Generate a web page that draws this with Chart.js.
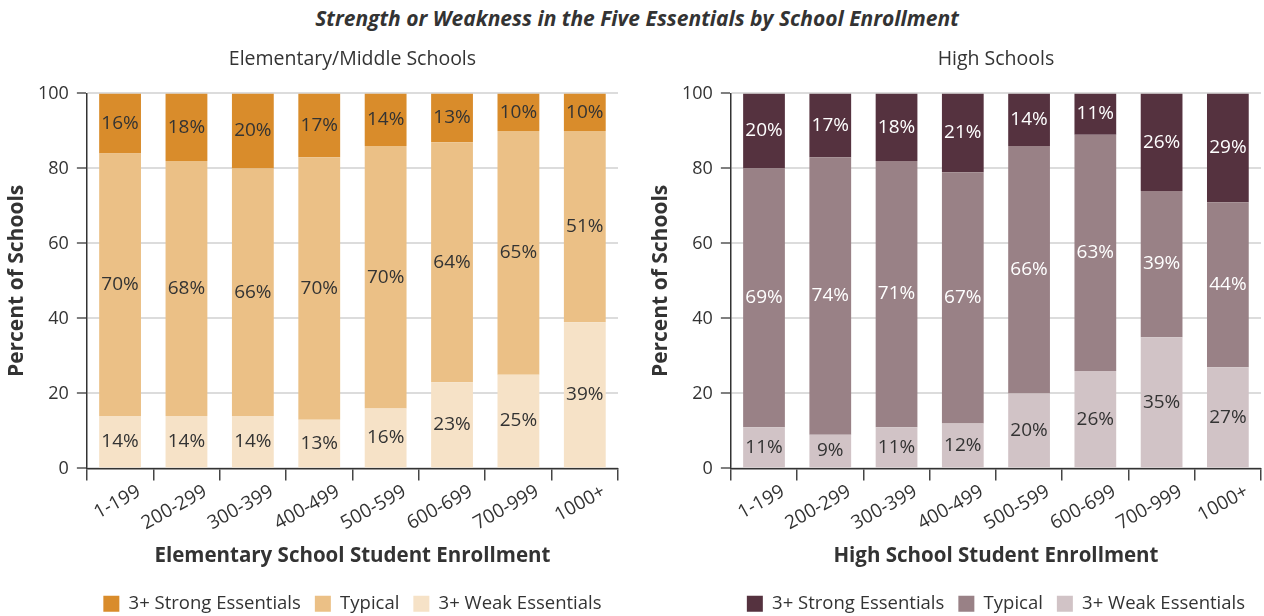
<!DOCTYPE html>
<html>
<head>
<meta charset="utf-8">
<script src="https://cdn.jsdelivr.net/npm/chart.js@4.4.1/dist/chart.umd.min.js"></script>
<style>
  body { margin: 0; background: #fff; width: 1264px; height: 616px; position: relative; overflow: hidden; }
  #main-title { position: absolute; top: 4px; left: 0; width: 1274px; text-align: center; line-height: 28px;
    font-family: 'Open Sans', sans-serif; font-style: italic; font-weight: 700; font-size: 21px; color: #333; }
  canvas { position: absolute; top: 40px; }
  #elemChart { left: 0; }
  #highChart { left: 640px; }
</style>
</head>
<body>
<div id="main-title">Strength or Weakness in the Five Essentials by School Enrollment</div>
<canvas id="elemChart" width="640" height="587"></canvas>
<canvas id="highChart" width="624" height="587"></canvas>
<script>
const enrollment = ['1-199', '200-299', '300-399', '400-499', '500-599', '600-699', '700-999', '1000+'];
const yTicks = [0, 20, 40, 60, 80, 100];

const elemWeak = [14, 14, 14, 13, 16, 23, 25, 39];
const elemTypical = [70, 68, 66, 70, 70, 64, 65, 51];
const elemStrong = [16, 18, 20, 17, 14, 13, 10, 10];

const highWeak = [11, 9, 11, 12, 20, 26, 35, 27];
const highTypical = [69, 74, 71, 67, 66, 63, 39, 44];
const highStrong = [20, 17, 18, 21, 14, 11, 26, 29];

const font = "'Open Sans', sans-serif";
const ink = '#333';

// writes the percent inside every stacked segment
const segmentLabels = {
    id: 'segmentLabels',
    afterDatasetsDraw(chart) {
        const ctx = chart.ctx;
        ctx.save();
        ctx.font = `19px ${font}`;
        ctx.textAlign = 'center';
        ctx.textBaseline = 'middle';
        chart.data.datasets.forEach((ds, i) => {
            const meta = chart.getDatasetMeta(i);
            meta.data.forEach((bar, j) => {
                ctx.fillStyle = ds.labelColor;
                ctx.fillText(ds.data[j] + '%', bar.x, (bar.y + bar.base) / 2);
            });
        });
        ctx.restore();
    }
};

function makeChart(id, subtitle, xTitle, weak, typical, strong, colors, labelColors, padLeft, padRight) {
    return new Chart(document.getElementById(id), {
        type: 'bar',
        data: {
            labels: enrollment,
            datasets: [
                { label: '3+ Weak Essentials', data: weak, backgroundColor: colors[2], labelColor: labelColors[2] },
                { label: 'Typical', data: typical, backgroundColor: colors[1], labelColor: labelColors[1] },
                { label: '3+ Strong Essentials', data: strong, backgroundColor: colors[0], labelColor: labelColors[0] },
            ]
        },
        options: {
            responsive: false,
            animation: false,
            categoryPercentage: 1,
            barPercentage: 0.63,
            layout: { padding: { left: padLeft, right: padRight, top: 0, bottom: 4 } },
            plugins: {
                tooltip: { enabled: false },
                title: {
                    display: true,
                    text: subtitle,
                    fullSize: false,
                    color: ink,
                    font: { family: font, size: 19.5, weight: 'normal' },
                    padding: { top: 8, bottom: 22 }
                },
                legend: {
                    position: 'bottom',
                    fullSize: false,
                    reverse: true,
                    labels: {
                        color: ink,
                        font: { family: font, size: 18.5 },
                        boxWidth: 16,
                        boxHeight: 16,
                        padding: 14
                    }
                }
            },
            scales: {
                x: {
                    stacked: true,
                    grid: { offset: true, drawOnChartArea: false, drawTicks: true, tickLength: 12, color: '#444', lineWidth: 1.5 },
                    border: { display: true, color: ink, width: 1.5 },
                    ticks: { color: ink, font: { family: font, size: 19 }, minRotation: 29, maxRotation: 29, labelOffset: 19, padding: 0 },
                    title: { display: true, text: xTitle, color: ink, font: { family: font, size: 20.5, weight: 'bold' }, padding: { top: 9, bottom: 12 } }
                },
                y: {
                    stacked: true,
                    min: 0,
                    max: 100,
                    afterBuildTicks: axis => { axis.ticks = yTicks.map(v => ({ value: v })); },
                    grid: { color: '#dcdcdc', lineWidth: 2, drawTicks: true, tickLength: 10, tickColor: '#555', tickWidth: 1.5 },
                    border: { display: true, color: ink, width: 1.5 },
                    ticks: { color: ink, font: { family: font, size: 18 }, padding: 8 },
                    title: { display: true, text: 'Percent of Schools', color: ink, font: { family: font, size: 21, weight: 'bold', lineHeight: 1 }, padding: { top: 0, bottom: 2 } }
                }
            }
        },
        plugins: [segmentLabels]
    });
}

makeChart('elemChart', 'Elementary/Middle Schools', 'Elementary School Student Enrollment',
    elemWeak, elemTypical, elemStrong,
    ['#d98c2b', '#ebc086', '#f6e2c7'], ['#333', '#333', '#333'], 7, 22);

makeChart('highChart', 'High Schools', 'High School Student Enrollment',
    highWeak, highTypical, highStrong,
    ['#55323f', '#998186', '#d1c3c6'], ['#fff', '#fff', '#333'], 11, 3);
</script>
</body>
</html>
